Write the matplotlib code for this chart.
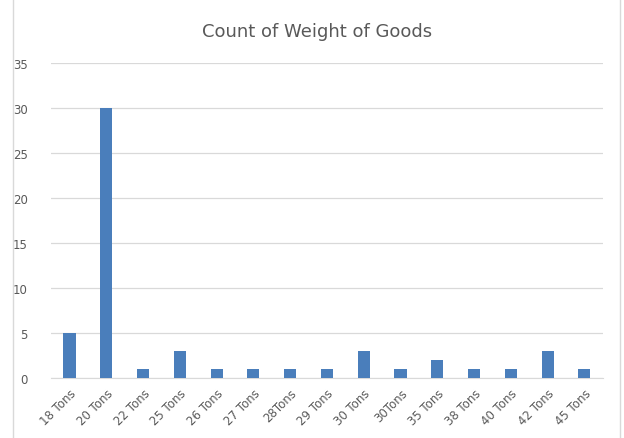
import matplotlib
matplotlib.use("Agg")
import matplotlib.pyplot as plt
from matplotlib.lines import Line2D

categories = ["18 Tons", "20 Tons", "22 Tons", "25 Tons", "26 Tons", "27 Tons", "28Tons",
              "29 Tons", "30 Tons", "30Tons", "35 Tons", "38 Tons", "40 Tons", "42 Tons", "45 Tons"]
counts = [5, 30, 1, 3, 1, 1, 1, 1, 3, 1, 2, 1, 1, 3, 1]
yticks = [0, 5, 10, 15, 20, 25, 30, 35]

TXT = "#595959"
GRID = "#d9d9d9"
BAR = "#4a7ebb"

fig = plt.figure(figsize=(6.24, 4.39), dpi=100)
ax = fig.add_axes([0.082, 0.137, 0.884, 0.717])

x = range(len(categories))
ax.bar(x, counts, width=0.33, color=BAR, zorder=3)
ax.set_xlim(-0.5, len(categories) - 0.5)
ax.set_ylim(0, 35)
ax.set_yticks(yticks)
ax.set_xticks(list(x))
ax.set_xticklabels(categories, rotation=45, ha="right", rotation_mode="anchor")
ax.tick_params(axis="both", length=0, labelsize=8.5, colors=TXT)
ax.tick_params(axis="y", pad=17)
ax.tick_params(axis="x", pad=6)
ax.grid(axis="y", color=GRID, lw=0.9, zorder=0)
for s in ["top", "right", "left"]:
    ax.spines[s].set_visible(False)
ax.spines["bottom"].set_color(GRID)

fig.text(0.508, 0.928, "Count of Weight of Goods", ha="center", va="center",
         fontsize=13, color=TXT)

# chart border lines
fig.add_artist(Line2D([0.021, 0.021], [0, 1], transform=fig.transFigure, color=GRID, lw=1))
fig.add_artist(Line2D([0.994, 0.994], [0, 1], transform=fig.transFigure, color=GRID, lw=1))

plt.savefig("out.png", dpi=100, facecolor="white")
